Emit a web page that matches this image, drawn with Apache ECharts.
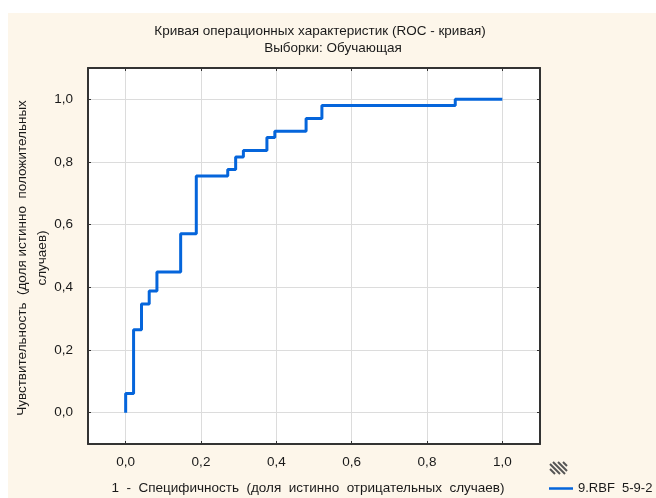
<!DOCTYPE html>
<html>
<head>
<meta charset="utf-8">
<script src="https://cdn.jsdelivr.net/npm/echarts@6/dist/echarts.min.js"></script>
<style>
html,body{margin:0;padding:0;background:#fff;}
#chart{width:656px;height:498px;}
</style>
</head>
<body>
<div id="chart"></div>
<script>
// ROC curve vertices (1 - specificity, sensitivity); drawn as horizontal-then-vertical steps
const fpr = [0, 0, 0.021, 0.042, 0.0625, 0.083, 0.146, 0.1875, 0.271, 0.292, 0.3125, 0.375, 0.396, 0.479, 0.521, 0.875, 1.0];
const tpr = [0, 0.061, 0.265, 0.347, 0.388, 0.449, 0.571, 0.755, 0.776, 0.816, 0.837, 0.878, 0.898, 0.939, 0.980, 1.0, 1.0];
const seriesName = '9.RBF  5-9-2';
const titleLines = ['Кривая операционных характеристик (ROC - кривая)', 'Выборки: Обучающая'];
const xAxisTitle = '1  -  Специфичность  (доля  истинно  отрицательных  случаев)';
const yAxisTitle = 'Чувствительность  (доля истинно  положительных\nслучаев)';

const FONT = 'Liberation Sans';
const FS = 13.5;
const TXT = '#1a1a1a';
const FRAME = '#333';
const fontStr = FS + 'px "' + FONT + '"';

const fmt = v => (v < -0.05 || v > 1.05) ? '' : v.toFixed(1).replace('.', ',');

// hatched legend swatch lines (clipped to box)
function hatch(x0, y0, w, h, step) {
  const els = [];
  for (let k = -h; k < w; k += step) {
    let xa = x0 + k, ya = y0, xb = x0 + k + h, yb = y0 + h;
    if (xa < x0) { ya += (x0 - xa); xa = x0; }
    if (xb > x0 + w) { yb -= (xb - (x0 + w)); xb = x0 + w; }
    els.push({type: 'line', shape: {x1: xa, y1: ya, x2: xb, y2: yb},
      style: {stroke: '#555', lineWidth: 2}, silent: true});
  }
  return els;
}

const chart = echarts.init(document.getElementById('chart'), null, {renderer: 'canvas'});
const option = {
  backgroundColor: '#ffffff',
  animation: false,
  textStyle: {fontFamily: FONT},
  grid: {left: 88, right: 116, top: 68, bottom: 54, show: true, backgroundColor: '#ffffff', borderWidth: 0},
  xAxis: [{
    type: 'value', min: -0.1, max: 1.1, splitNumber: 6, position: 'bottom',
    axisLine: {show: true, onZero: false, lineStyle: {color: FRAME, width: 2}},
    axisTick: {show: true, inside: true, length: 3, lineStyle: {color: FRAME}},
    axisLabel: {formatter: fmt, margin: 11, fontSize: FS, color: TXT, fontFamily: FONT},
    splitLine: {show: true, lineStyle: {color: '#dcdcdc', width: 1}}
  }, {
    type: 'value', min: -0.1, max: 1.1, splitNumber: 6, position: 'top',
    axisLine: {show: true, onZero: false, lineStyle: {color: FRAME, width: 2}},
    axisTick: {show: true, inside: true, length: 3, lineStyle: {color: FRAME}},
    axisLabel: {show: false}, splitLine: {show: false}
  }],
  yAxis: [{
    type: 'value', min: -0.1, max: 1.1, splitNumber: 6, position: 'left',
    axisLine: {show: true, onZero: false, lineStyle: {color: FRAME, width: 2}},
    axisTick: {show: true, inside: true, length: 3, lineStyle: {color: FRAME}},
    axisLabel: {formatter: fmt, margin: 15, fontSize: FS, color: TXT, fontFamily: FONT},
    splitLine: {show: true, lineStyle: {color: '#dcdcdc', width: 1}}
  }, {
    type: 'value', min: -0.1, max: 1.1, splitNumber: 6, position: 'right',
    axisLine: {show: true, onZero: false, lineStyle: {color: FRAME, width: 2}},
    axisTick: {show: true, inside: true, length: 3, lineStyle: {color: FRAME}},
    axisLabel: {show: false}, splitLine: {show: false}
  }],
  legend: {
    left: 544, top: 477, itemWidth: 24, itemHeight: 2.5, icon: 'rect', itemGap: 4,
    textStyle: {fontSize: 13, color: TXT, fontFamily: FONT},
    data: [{name: seriesName}]
  },
  series: [{
    name: seriesName, type: 'line', step: 'end', showSymbol: false, symbol: 'none',
    xAxisIndex: 0, yAxisIndex: 0,
    lineStyle: {color: '#0565db', width: 3},
    itemStyle: {color: '#0565db'},
    data: fpr.map((x, i) => [x, tpr[i]])
  }],
  graphic: [
    {type: 'rect', z: -10, shape: {x: 8, y: 13, width: 648, height: 485}, style: {fill: '#fdf6ea'}, silent: true},
    {type: 'text', x: 320, y: 31, style: {text: titleLines[0], font: fontStr, fill: TXT, align: 'center', verticalAlign: 'middle'}},
    {type: 'text', x: 333, y: 48, style: {text: titleLines[1], font: fontStr, fill: TXT, align: 'center', verticalAlign: 'middle'}},
    {type: 'text', x: 308, y: 488, style: {text: xAxisTitle, font: fontStr, fill: TXT, align: 'center', verticalAlign: 'middle'}},
    {type: 'text', x: 32, y: 258, rotation: Math.PI / 2, style: {text: yAxisTitle, font: fontStr, fill: TXT, align: 'center', verticalAlign: 'middle', lineHeight: 20}},
    {type: 'group', children: hatch(550, 462, 17, 12, 5)}
  ]
};
chart.setOption(option);
</script>
</body>
</html>
